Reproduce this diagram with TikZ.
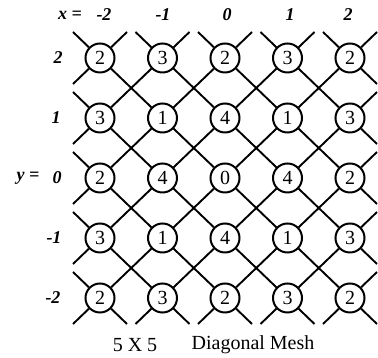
\documentclass[tikz,border=0pt]{standalone}
\usepackage{fontspec}
\setmainfont{Liberation Serif}
\begin{document}
\begin{tikzpicture}[x=1pt, y=1pt,
    pe/.style={circle, draw, line width=2pt, fill=white, minimum size=29pt, inner sep=0pt, font=\fontsize{20}{20}\selectfont},
    link/.style={line width=1.9pt},
    axlab/.style={font=\fontsize{18}{18}\selectfont\bfseries\itshape}]
    \useasboundingbox (0,0) rectangle (378,358);
    % 处理器节点（5 x 5）
    \foreach \r/\vals in {1/{2,3,2,3,2}, 2/{3,1,4,1,3}, 3/{2,4,0,4,2}, 4/{3,1,4,1,3}, 5/{2,3,2,3,2}} {
        \foreach \v [count=\c] in \vals {
            \node[pe] (n\c\r) at ({225+62.5*(\c-3)}, {180+60*(3-\r)}) {\v};
        }
    }
    % 对角连线
    \foreach \c in {1,...,4} {
        \foreach \r in {1,...,4} {
            \pgfmathtruncatemacro\cc{\c+1}
            \pgfmathtruncatemacro\rr{\r+1}
            \draw[link] (n\c\r) -- (n\cc\rr);
            \draw[link] (n\c\rr) -- (n\cc\r);
        }
    }
    % 边界上的短线
    \foreach \c in {1,...,5} {
        \draw[link] (n\c1) -- ++(-27, 26);
        \draw[link] (n\c1) -- ++(27, 26);
        \draw[link] (n\c5) -- ++(-27, -26);
        \draw[link] (n\c5) -- ++(27, -26);
    }
    \foreach \r in {2,...,4} {
        \draw[link] (n1\r) -- ++(-27, 26);
        \draw[link] (n1\r) -- ++(-27, -26);
        \draw[link] (n5\r) -- ++(27, 26);
        \draw[link] (n5\r) -- ++(27, -26);
    }
    \draw[link] (n15) -- ++(-27, 26);
    \draw[link] (n11) -- ++(-27, -26);
    \draw[link] (n55) -- ++(27, 26);
    \draw[link] (n51) -- ++(27, -26);
    % 坐标标注
    \node[axlab] (xeq) at (70, 343) {x =};
    \node[axlab] (xa) at (104, 343) {-2};
    \node[axlab] (xb) at (163, 343) {-1};
    \node[axlab] (xc) at (227, 343) {0};
    \node[axlab] (xd) at (290, 343) {1};
    \node[axlab] (xe) at (348, 343) {2};
    \node[axlab] (ya) at (58, 300) {2};
    \node[axlab] (yb) at (56, 240) {1};
    \node[axlab] (yeq) at (28, 180) {y =};
    \node[axlab] (yc) at (57, 180) {0};
    \node[axlab] (yd) at (54, 120) {-1};
    \node[axlab] (ye) at (53, 60) {-2};
    % 标题
    \node[font=\fontsize{20}{20}\selectfont] (cap1) at (135, 13) {5 X 5};
    \node[font=\fontsize{20}{20}\selectfont] (cap2) at (253, 13) {Diagonal Mesh};
\end{tikzpicture}
\end{document}
